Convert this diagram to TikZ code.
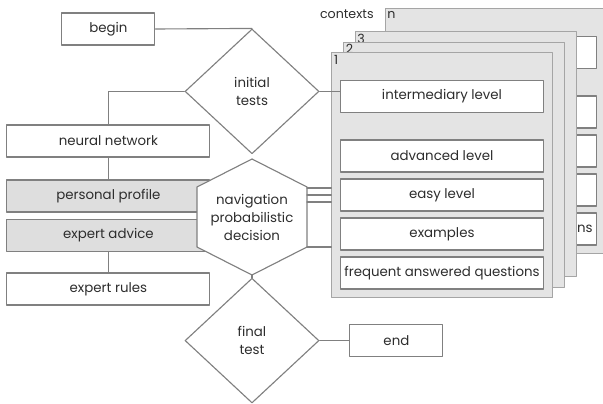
\documentclass[tikz,border=0pt]{standalone}
\usepackage{fontspec}
\setmainfont{Poppins}
\usetikzlibrary{shapes.geometric,calc}
\definecolor{flowline}{RGB}{128,128,128}
\definecolor{flowedge}{RGB}{165,165,165}
\definecolor{flowpanel}{RGB}{228,228,228}
\definecolor{flowshade}{RGB}{222,222,222}
\definecolor{flowtext}{RGB}{45,45,45}

\begin{document}
\begin{tikzpicture}[line cap=round,line join=round,
                     font=\fontsize{9.5}{12.8}\selectfont,text=flowtext,
    flowbox/.style={draw=flowline,fill=white,line width=.8pt,
                    minimum height=.8cm,inner sep=0pt},
    widebox/.style={flowbox,minimum width=5.075cm},
    shortbox/.style={flowbox,minimum width=2.325cm},
    shadedbox/.style={widebox,fill=flowshade},
    decision/.style={diamond,draw=flowline,fill=white,line width=.8pt,
                     minimum width=3.35cm,minimum height=3.12cm,
                     inner sep=0pt,align=center},
    ctxpanel/.style={draw=flowedge,fill=flowpanel,line width=.8pt,
                     minimum width=5.525cm,minimum height=6.125cm},
    ctxlabel/.style={inner sep=1.8pt,font=\fontsize{9}{10}\selectfont},
    link/.style={draw=flowline,line width=.8pt}]
  \useasboundingbox (0,0) rectangle (15.075,10.075);
  % Stos kontekstow: najpierw ostatni, potem 3, 2 i 1.
  \node[ctxpanel] (ctxn) at (12.39,6.79) {};
  \node[ctxlabel,anchor=north west] (labn) at (ctxn.north west) {n};
  \node[ctxlabel] (contexts) at (8.67,9.72) {contexts};
  \node[widebox] (nbox1) at (12.375,8.76) {};
  \node[widebox] (nbox2) at (12.375,7.275) {};
  \node[widebox] (nbox3) at (12.375,6.30) {};
  \node[widebox] (nbox4) at (12.375,5.325) {};
  \node[widebox] (nbox5) at (12.375,4.35) {frequent answered questions};

  \node[ctxpanel] (ctx3) at (11.64,6.225) {};
  \node[ctxlabel,anchor=north west] (lab3) at (ctx3.north west) {3};
  \node[ctxpanel] (ctx2) at (11.35,5.96) {};
  \node[ctxlabel,anchor=north west] (lab2) at (ctx2.north west) {2};
  \node[ctxpanel] (ctx1) at (11.06,5.69) {};
  \node[ctxlabel,anchor=north west] (lab1) at (ctx1.north west) {1};
  \node[widebox] (inter) at (11.05,7.66) {intermediary level};
  \node[widebox] (advanced) at (11.05,6.175) {advanced level};
  \node[widebox] (easy) at (11.05,5.20) {easy level};
  \node[widebox] (examples) at (11.05,4.225) {examples};
  \node[widebox] (faq) at (11.05,3.25) {frequent answered questions};

  % Lewa kolumna i testy.
  \node[shortbox] (begin) at (2.71,9.35) {begin};
  \node[decision] (init) at (6.30,7.79) {initial\\tests};
  \node[widebox] (neural) at (2.71,6.55) {neural network};
  \node[shadedbox] (profile) at (2.71,5.175) {personal profile};
  \node[shadedbox] (advice) at (2.71,4.19) {expert advice};
  \node[widebox] (rules) at (2.71,2.85) {expert rules};
  \node[decision] (final) at (6.30,1.56) {final\\test};
  \node[shortbox] (end) at (9.91,1.56) {end};

  % Szesciokat decyzji nawigacji.
  \coordinate (hexN) at (6.30,6.10);
  \coordinate (hexNE) at (7.675,5.40);
  \coordinate (hexSE) at (7.675,3.90);
  \coordinate (hexS) at (6.30,3.20);
  \coordinate (hexSW) at (4.925,3.90);
  \coordinate (hexNW) at (4.925,5.40);
  \filldraw[fill=white,draw=flowline,line width=.8pt]
       (hexN)--(hexNE)--(hexSE)--(hexS)--(hexSW)--(hexNW)--cycle;
  \node[align=center] (nav) at (6.30,4.65)
       {navigation\\probabilistic\\decision};
  \coordinate (hexE1) at (7.675,5.375);
  \coordinate (hexE2) at (7.675,5.20);
  \coordinate (hexE3) at (7.675,5.025);

  % Polaczenia.
  \draw[link] (begin.east) -- (init.north);
  \draw[link] (init.west) -| (neural.north);
  \draw[link] (init.east) -- (init.east -| inter.west);
  \draw[link] (neural.south) -- (profile.north);
  \draw[link] (advice.south) -- (rules.north);
  \draw[link] (hexE1) -- (hexE1 -| ctx1.west);
  \draw[link] (hexE2) -- (hexE2 -| ctx1.west);
  \draw[link] (hexE3) -- (hexE3 -| ctx1.west);
  \draw[link] (hexSE) -- (hexSE -| ctx1.west);
  \draw[link] (hexS) -- (final.north);
  \draw[link] (final.east) -- (end.west);
\end{tikzpicture}
\end{document}
